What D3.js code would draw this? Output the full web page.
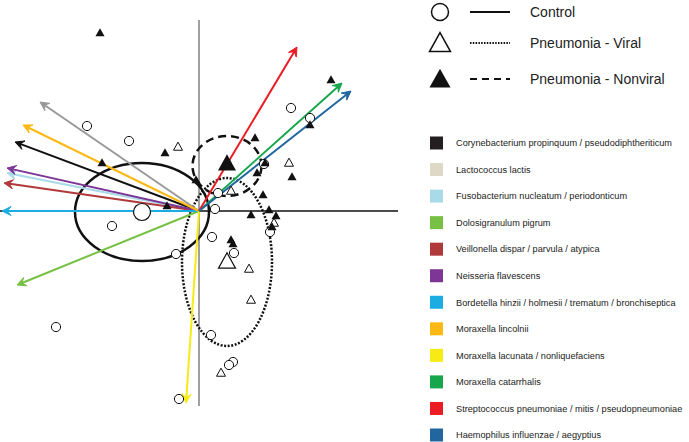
<!DOCTYPE html>
<html>
<head>
	<title>Biplot - pneumonia groups</title>
	<script src="https://d3js.org/d3.v7.min.js"></script>
	<style>
		body { margin: 0; background: white; }
		text { font-family: "Liberation Sans", Arial, sans-serif; fill: #222; }
	</style>
</head>
<body>
<svg width="689" height="442"></svg>

<script type="text/javascript">
// ---- data ----
var species = [
	'Corynebacterium propinquum / pseudodiphtheriticum',
	'Lactococcus lactis',
	'Fusobacterium nucleatum / periodonticum',
	'Dolosigranulum pigrum',
	'Veillonella dispar / parvula / atypica',
	'Neisseria flavescens',
	'Bordetella hinzii / holmesii / trematum / bronchiseptica',
	'Moraxella lincolnii',
	'Moraxella lacunata / nonliquefaciens',
	'Moraxella catarrhalis',
	'Streptococcus pneumoniae / mitis / pseudopneumoniae',
	'Haemophilus influenzae / aegyptius'
];
var speciesColors = ['#231f20', '#ddd9c6', '#a8dbe7', '#76c143', '#b0393b', '#7d3596',
	'#1bade2', '#fdb913', '#f6eb14', '#17a64b', '#ec1c24', '#21669f'];
var arrowColors = ['#111111', '#999999', '#a8dbe7', '#76c143', '#b0393b', '#7d3596',
	'#1bade2', '#fdb913', '#f6eb14', '#17a64b', '#ec1c24', '#21669f'];
var loadingX = [-1.84, -1.59, -1.92, -1.82, -1.95, -1.92, -1.97, -1.76, -0.13, 1.43, 0.98, 1.52];
var loadingY = [0.69, 1.09, 0.38, -0.74, 0.28, 0.43, 0.00, 0.86, -1.92, 1.28, 1.64, 1.20];

var groups = ['Control', 'Pneumonia - Viral', 'Pneumonia - Nonviral'];
var groupCenterX = [-0.57, 0.28, 0.28];
var groupCenterY = [-0.01, -0.51, 0.45];
var groupSpreadX = [0.67, 0.45, 0.345];
var groupSpreadY = [0.49, 0.84, 0.30];

var controlPoints = [[-1.12, 0.85], [-0.70, 0.70], [-0.87, -0.15], [-0.23, -0.43], [-1.43, -1.16],
	[-0.20, -1.88], [0.92, 1.03], [1.11, 0.93], [0.65, 0.47], [0.19, 0.18], [0.16, 0.02],
	[0.13, -0.26], [0.35, -0.42], [0.71, -0.21], [0.12, -1.24], [0.34, -1.51], [0.30, -1.54]];
var viralPoints = [[-0.21, 0.64], [0.90, 0.48], [0.32, 0.20], [0.50, -0.58], [0.52, -0.89],
	[0.22, -1.62], [0.75, -0.12]];
var nonviralPoints = [[-0.99, 1.78], [-0.34, 0.58], [-0.97, 0.48], [-0.32, 0.05], [-0.03, 0.31],
	[1.32, 1.31], [1.11, 0.86], [0.56, 0.73], [0.58, 0.38], [0.66, 0.48], [0.93, 0.34],
	[0.64, 0.16], [0.70, 0.01], [0.52, -0.04], [0.77, -0.05], [0.32, -0.29], [0.34, -0.33],
	[0.73, -0.16]];

// ---- scales ----
var svg = d3.select('svg');
var x = d3.scaleLinear().domain([-2, 2]).range([-1, 399]);
var y = d3.scaleLinear().domain([-2, 2]).range([411, 11]);

function triangle(cx, cy, w) {
	var h = w * 0.9;
	return 'M' + cx + ',' + (cy - h * 0.6) + 'L' + (cx + w / 2) + ',' + (cy + h * 0.4) +
		'L' + (cx - w / 2) + ',' + (cy + h * 0.4) + 'Z';
}

// axes
svg.append('line')
	.attr('x1', 0).attr('x2', 398)
	.attr('y1', y(0)).attr('y2', y(0))
	.attr('stroke', '#111').attr('stroke-width', 1.5);
svg.append('line')
	.attr('x1', x(0)).attr('x2', x(0))
	.attr('y1', 20).attr('y2', 406)
	.attr('stroke', '#808080').attr('stroke-width', 1.5);

// group ellipses
var dashes = [null, '2,1.6', '8,5'];
svg.selectAll('ellipse.grp')
	.data(groups)
	.enter()
	.append('ellipse')
	.attr('class', 'grp')
	.attr('cx', function(d, i) { return x(groupCenterX[i]); })
	.attr('cy', function(d, i) { return y(groupCenterY[i]); })
	.attr('rx', function(d, i) { return x(groupSpreadX[i]) - x(0); })
	.attr('ry', function(d, i) { return y(0) - y(groupSpreadY[i]); })
	.attr('fill', 'none')
	.attr('stroke', '#111')
	.attr('stroke-width', 2.5)
	.attr('stroke-dasharray', function(d, i) { return dashes[i]; });

// loading arrows
var headLen = 9, headW = 4.5;
var arrows = svg.selectAll('g.arrow')
	.data(species)
	.enter()
	.append('g')
	.attr('class', 'arrow');

arrows.append('line')
	.attr('x1', x(0)).attr('y1', y(0))
	.attr('x2', function(d, i) {
		var dx = x(loadingX[i]) - x(0), dy = y(loadingY[i]) - y(0);
		var len = Math.sqrt(dx * dx + dy * dy);
		return x(loadingX[i]) - dx / len * 4;
	})
	.attr('y2', function(d, i) {
		var dx = x(loadingX[i]) - x(0), dy = y(loadingY[i]) - y(0);
		var len = Math.sqrt(dx * dx + dy * dy);
		return y(loadingY[i]) - dy / len * 4;
	})
	.attr('stroke', function(d, i) { return arrowColors[i]; })
	.attr('stroke-width', 2);

arrows.append('path')
	.attr('d', function(d, i) {
		var tx = x(loadingX[i]), ty = y(loadingY[i]);
		var dx = tx - x(0), dy = ty - y(0);
		var len = Math.sqrt(dx * dx + dy * dy);
		var ux = dx / len, uy = dy / len;
		var bx = tx - ux * headLen, by = ty - uy * headLen;
		var nx = tx - ux * headLen * 0.6, ny = ty - uy * headLen * 0.6;
		return 'M' + tx + ',' + ty +
			'L' + (bx - uy * headW) + ',' + (by + ux * headW) +
			'L' + nx + ',' + ny +
			'L' + (bx + uy * headW) + ',' + (by - ux * headW) + 'Z';
	})
	.attr('fill', function(d, i) { return arrowColors[i]; })
	.attr('stroke', function(d, i) { return arrowColors[i]; })
	.attr('stroke-width', 1);

// sample points
svg.selectAll('circle.ctrl')
	.data(controlPoints)
	.enter()
	.append('circle')
	.attr('class', 'ctrl')
	.attr('cx', function(d) { return x(d[0]); })
	.attr('cy', function(d) { return y(d[1]); })
	.attr('r', 4.6)
	.attr('fill', 'white')
	.attr('stroke', '#111')
	.attr('stroke-width', 1);

svg.selectAll('path.viral')
	.data(viralPoints)
	.enter()
	.append('path')
	.attr('class', 'viral')
	.attr('d', function(d) { return triangle(x(d[0]), y(d[1]), 9); })
	.attr('fill', 'white')
	.attr('stroke', '#111')
	.attr('stroke-width', 1);

svg.selectAll('path.nonviral')
	.data(nonviralPoints)
	.enter()
	.append('path')
	.attr('class', 'nonviral')
	.attr('d', function(d) { return triangle(x(d[0]), y(d[1]), 9); })
	.attr('fill', '#111');

// group centroids
svg.append('circle')
	.attr('cx', x(groupCenterX[0])).attr('cy', y(groupCenterY[0]))
	.attr('r', 8.5)
	.attr('fill', 'white').attr('stroke', '#111').attr('stroke-width', 1.2);
svg.append('path')
	.attr('d', triangle(x(groupCenterX[1]), y(groupCenterY[1]), 17))
	.attr('fill', 'white').attr('stroke', '#111').attr('stroke-width', 1.2);
svg.append('path')
	.attr('d', triangle(x(groupCenterX[2]), y(groupCenterY[2]) - 2, 18))
	.attr('fill', '#111');

// group legend
var gl = svg.append('g');
var glY = [12, 43, 79];
gl.append('circle')
	.attr('cx', 440).attr('cy', glY[0]).attr('r', 8.5)
	.attr('fill', 'white').attr('stroke', '#111').attr('stroke-width', 1.5);
gl.append('path')
	.attr('d', triangle(440, glY[1] + 1, 21))
	.attr('fill', 'white').attr('stroke', '#111').attr('stroke-width', 1.5);
gl.append('path')
	.attr('d', triangle(440, glY[2] + 1, 21))
	.attr('fill', '#111');
gl.selectAll('line')
	.data(groups)
	.enter()
	.append('line')
	.attr('x1', 470).attr('x2', 510)
	.attr('y1', function(d, i) { return glY[i]; })
	.attr('y2', function(d, i) { return glY[i]; })
	.attr('stroke', '#111')
	.attr('stroke-width', function(d, i) { return i == 0 ? 2 : 1.8; })
	.attr('stroke-dasharray', function(d, i) { return [null, '1.5,1.3', '7,5'][i]; });
gl.selectAll('text')
	.data(groups)
	.enter()
	.append('text')
	.attr('x', 530)
	.attr('y', function(d, i) { return glY[i] + 5; })
	.attr('font-size', 14)
	.text(function(d) { return d; });

// species legend
var rowY = d3.scaleLinear().domain([0, 11]).range([143, 435]);
var sl = svg.selectAll('g.sp')
	.data(species)
	.enter()
	.append('g')
	.attr('class', 'sp')
	.attr('transform', function(d, i) { return 'translate(430,' + rowY(i) + ')'; });
sl.append('rect')
	.attr('x', 0).attr('y', -6.5)
	.attr('width', 13).attr('height', 13)
	.attr('fill', function(d, i) { return speciesColors[i]; });
sl.append('text')
	.attr('x', 26).attr('y', 3.3)
	.attr('font-size', 9.2)
	.text(function(d) { return d; });
</script>

</body>
</html>
